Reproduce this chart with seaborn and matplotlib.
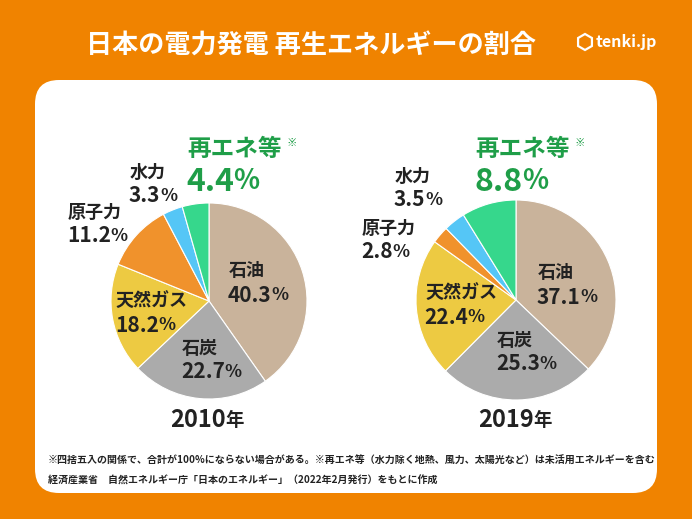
import matplotlib
matplotlib.use("Agg")
import matplotlib.pyplot as plt
import seaborn as sns
from matplotlib.patches import FancyBboxPatch, RegularPolygon

# data
categories = ["石油", "石炭", "天然ガス", "原子力", "水力", "再エネ等"]
share_2010 = [40.3, 22.7, 18.2, 11.2, 3.3, 4.4]
share_2019 = [37.1, 25.3, 22.4, 2.8, 3.5, 8.8]
years = ["2010", "2019"]

title = "日本の電力発電 再生エネルギーの割合"
note1 = ("※四捨五入の関係で、合計が100%にならない場合がある。"
         "※再エネ等（水力除く地熱、風力、太陽光など）は未活用エネルギーを含む")
note2 = "経済産業省　自然エネルギー庁「日本のエネルギー」（2022年2月発行）をもとに作成"

sns.set_style("white")
plt.rcParams['font.family'] = ['Noto Sans CJK JP', 'DejaVu Sans']

slice_colors = sns.color_palette(
    ["#C9B39B", "#ABABAB", "#EDCA42", "#F0922C", "#55C6F6", "#36D78C"])
ORANGE = "#F08300"
GREEN = "#1F9E48"
DARK = "#222222"

W, H = 692, 519
fig = plt.figure(figsize=(W / 100, H / 100), dpi=100)
fig.patch.set_facecolor(ORANGE)

bg = fig.add_axes([0, 0, 1, 1])
bg.set_xlim(0, W)
bg.set_ylim(H, 0)
bg.axis("off")

panel = FancyBboxPatch((35, 80), 622, 413,
                       boxstyle="round,pad=0,rounding_size=24",
                       facecolor="white", edgecolor="none")
bg.add_patch(panel)


def draw_pie(values, cx, cy, r):
    ax = fig.add_axes([(cx - r) / W, (H - cy - r) / H, 2 * r / W, 2 * r / H])
    ax.pie(values, colors=slice_colors, startangle=90, counterclock=False,
           wedgeprops=dict(edgecolor="white", linewidth=0.8))
    ax.set_xlim(-1.0, 1.0)
    ax.set_ylim(-1.0, 1.0)
    ax.axis("off")


draw_pie(share_2010, 209, 301, 98)
draw_pie(share_2019, 516, 300, 100)

# transparent layer above the pies for all the text
top = fig.add_axes([0, 0, 1, 1], facecolor="none")
top.set_xlim(0, W)
top.set_ylim(H, 0)
top.axis("off")

top.text(311, 46, title, color="white", fontsize=18.8, fontweight="bold",
         ha="center", va="center")
# logo
top.add_patch(RegularPolygon((585, 42), 6, radius=8, facecolor="none",
                             edgecolor="white", linewidth=1.6))
top.text(596, 42, "tenki.jp", color="white", fontsize=11.5, fontweight="bold",
         ha="left", va="center")


def with_suffix(x, y, main, suffix, size, color, ratio=0.85):
    t = top.text(x, y, main, color=color, fontsize=size,
                 fontweight="bold", ha="left", va="center")
    top.annotate(suffix, xy=(1, 0), xycoords=t, xytext=(-0.3, size * 0.09),
                 textcoords="offset points", color=color,
                 fontsize=size * ratio, fontweight="bold",
                 ha="left", va="bottom")


def label(x, y, name, value, name_size=13, num_size=15):
    top.text(x, y, name, color=DARK, fontsize=name_size, fontweight="bold",
             ha="left", va="center")
    with_suffix(x - 1, y + 24, f"{value}", "%", num_size, DARK)


def renew_label(x, value):
    top.text(x, 149, categories[5], color=GREEN, fontsize=17,
             fontweight="bold", ha="left", va="center")
    top.text(x + 99, 143, "※", color=GREEN, fontsize=7.5,
             fontweight="bold", ha="left", va="center")
    with_suffix(x - 1, 182, f"{value}", "%", 23, GREEN)


# 2010
label(229, 271, categories[0], share_2010[0])
label(182, 348, categories[1], share_2010[1])
label(116, 301, categories[2], share_2010[2])
label(68, 212, categories[3], share_2010[3])
label(130, 172, categories[4], share_2010[4])
renew_label(187, share_2010[5])
with_suffix(170, 420, years[0], "年", 17, DARK, ratio=0.78)

# 2019
label(538, 273, categories[0], share_2019[0])
label(497, 340, categories[1], share_2019[1])
label(425, 293, categories[2], share_2019[2])
label(362, 228, categories[3], share_2019[3])
label(395, 176, categories[4], share_2019[4])
renew_label(475, share_2019[5])
with_suffix(478, 420, years[1], "年", 17, DARK, ratio=0.78)

top.text(48, 461, note1, color=DARK, fontsize=7.2, fontweight="bold",
         ha="left", va="center")
top.text(48, 481, note2, color=DARK, fontsize=7.2, fontweight="bold",
         ha="left", va="center")

fig.savefig("out.png", dpi=100, facecolor=fig.get_facecolor())
